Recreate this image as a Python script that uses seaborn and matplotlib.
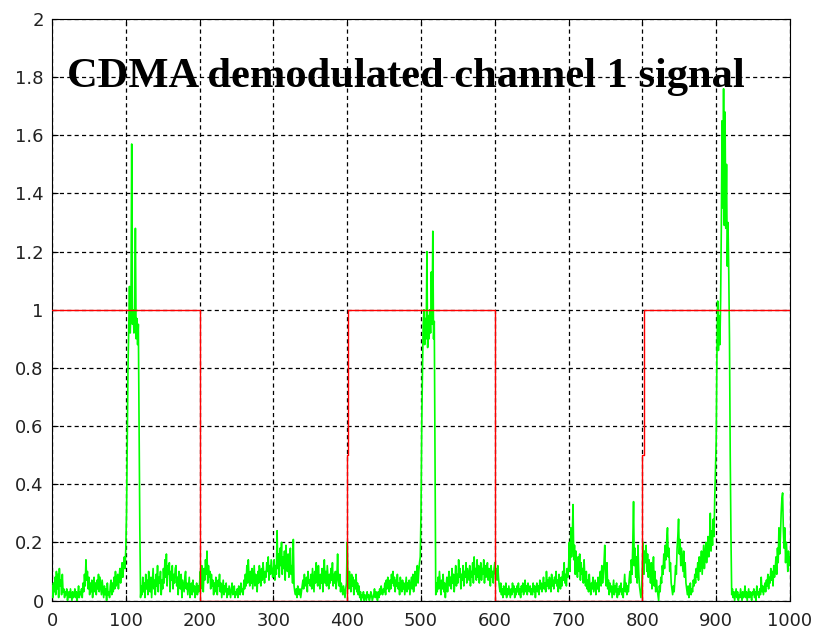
import numpy as np
import pandas as pd
import matplotlib
matplotlib.use("Agg")
import matplotlib.pyplot as plt
import seaborn as sns

# ---------------- data ----------------
title_text = "CDMA demodulated channel 1 signal"
x_ticks = [0, 100, 200, 300, 400, 500, 600, 700, 800, 900, 1000]
y_ticks = [0, 0.2, 0.4, 0.6, 0.8, 1, 1.2, 1.4, 1.6, 1.8, 2]
y_tick_labels = ["0", "0.2", "0.4", "0.6", "0.8", "1", "1.2", "1.4", "1.6", "1.8", "2"]

# original transmitted bits (red)
red_x = [0, 200, 200, 400, 400, 401.5, 401.5, 600, 600, 800, 800, 801.5, 801.5, 1000]
red_y = [1, 1, 0, 0, 0.5, 0.5, 1, 1, 0, 0, 0.5, 0.5, 1, 1]

# demodulated channel-1 signal (green), one sample per unit from 0 to 1000
green_x = list(range(0, 1001))
green_y = [
    # 0-49
    0.05,0.01,0.06,0.03,0.08,0.02,0.10,0.04,0.09,0.01,
    0.11,0.05,0.07,0.02,0.09,0.03,0.04,0.01,0.03,0.02,
    0.04,0.00,0.02,0.03,0.01,0.04,0.02,0.00,0.03,0.01,
    0.02,0.04,0.01,0.03,0.00,0.02,0.05,0.01,0.03,0.02,
    0.04,0.01,0.06,0.03,0.09,0.05,0.14,0.07,0.10,0.04,
    # 50-99
    0.08,0.02,0.06,0.03,0.07,0.01,0.05,0.08,0.03,0.06,
    0.02,0.07,0.04,0.09,0.03,0.08,0.05,0.02,0.07,0.04,
    0.01,0.05,0.02,0.04,0.00,0.06,0.02,0.03,0.01,0.05,
    0.07,0.02,0.06,0.03,0.08,0.04,0.10,0.05,0.07,0.09,
    0.04,0.08,0.11,0.06,0.10,0.13,0.08,0.12,0.15,0.11,
    # 100-149
    0.18,0.30,0.55,0.80,0.95,1.08,0.92,1.00,1.57,0.95,
    1.00,0.92,0.98,1.28,0.90,0.97,0.88,0.95,0.60,0.25,
    0.01,0.05,0.02,0.08,0.03,0.06,0.01,0.09,0.04,0.07,
    0.02,0.10,0.05,0.03,0.08,0.01,0.06,0.11,0.04,0.07,
    0.02,0.09,0.05,0.12,0.03,0.08,0.06,0.10,0.02,0.07,
    # 150-199
    0.04,0.11,0.06,0.14,0.08,0.16,0.05,0.12,0.09,0.13,
    0.03,0.10,0.07,0.12,0.04,0.09,0.06,0.11,0.12,0.05,
    0.08,0.02,0.10,0.06,0.04,0.09,0.01,0.07,0.05,0.03,
    0.08,0.10,0.04,0.06,0.02,0.05,0.08,0.01,0.04,0.06,
    0.02,0.07,0.03,0.05,0.01,0.04,0.06,0.02,0.05,0.03,
    # 200-249
    0.06,0.10,0.04,0.12,0.08,0.03,0.11,0.07,0.14,0.09,
    0.17,0.06,0.12,0.08,0.10,0.04,0.09,0.05,0.07,0.02,
    0.06,0.03,0.08,0.04,0.02,0.07,0.05,0.09,0.03,0.06,
    0.01,0.04,0.07,0.02,0.05,0.03,0.06,0.01,0.04,0.02,
    0.05,0.03,0.01,0.04,0.06,0.02,0.03,0.05,0.01,0.03,
    # 250-299
    0.02,0.04,0.01,0.05,0.03,0.02,0.06,0.03,0.04,0.02,
    0.07,0.04,0.09,0.05,0.12,0.06,0.14,0.08,0.05,0.10,
    0.06,0.11,0.04,0.08,0.12,0.05,0.09,0.07,0.03,0.10,
    0.06,0.12,0.08,0.05,0.11,0.07,0.13,0.09,0.06,0.10,
    0.08,0.13,0.10,0.15,0.07,0.12,0.09,0.14,0.11,0.08,
    # 300-349
    0.10,0.14,0.07,0.12,0.09,0.24,0.11,0.16,0.08,0.18,
    0.12,0.20,0.09,0.15,0.11,0.17,0.07,0.19,0.13,0.10,
    0.16,0.08,0.14,0.18,0.09,0.12,0.06,0.21,0.05,0.03,
    0.02,0.04,0.01,0.05,0.03,0.02,0.04,0.01,0.03,0.05,
    0.07,0.04,0.09,0.05,0.06,0.08,0.03,0.10,0.06,0.07,
    # 350-399
    0.05,0.09,0.04,0.11,0.07,0.03,0.10,0.06,0.13,0.08,
    0.05,0.12,0.07,0.04,0.09,0.06,0.11,0.03,0.08,0.14,
    0.06,0.10,0.05,0.12,0.08,0.04,0.09,0.06,0.11,0.07,
    0.13,0.05,0.09,0.06,0.10,0.04,0.08,0.16,0.07,0.05,
    0.09,0.03,0.06,0.04,0.02,0.05,0.03,0.01,0.04,0.06,
    # 400-449
    0.20,0.08,0.04,0.10,0.06,0.03,0.09,0.05,0.08,0.02,
    0.07,0.04,0.09,0.03,0.06,0.02,0.05,0.01,0.03,0.00,
    0.02,0.01,0.03,0.00,0.02,0.01,0.00,0.03,0.01,0.02,
    0.00,0.01,0.03,0.02,0.00,0.01,0.02,0.04,0.01,0.03,
    0.02,0.00,0.03,0.01,0.04,0.02,0.05,0.03,0.02,0.04,
    # 450-499
    0.03,0.06,0.02,0.07,0.04,0.08,0.05,0.03,0.07,0.04,
    0.09,0.06,0.10,0.05,0.08,0.03,0.07,0.05,0.09,0.04,
    0.06,0.02,0.08,0.05,0.03,0.07,0.04,0.06,0.02,0.05,
    0.08,0.03,0.06,0.04,0.07,0.02,0.05,0.08,0.04,0.09,
    0.03,0.07,0.10,0.05,0.08,0.12,0.06,0.10,0.13,0.15,
    # 500-549
    0.30,0.60,0.79,0.95,1.00,0.88,0.97,0.90,1.20,0.87,
    0.98,0.90,1.00,0.92,1.13,0.95,1.27,0.90,0.96,0.50,
    0.02,0.06,0.03,0.08,0.04,0.10,0.06,0.02,0.07,0.04,
    0.09,0.03,0.06,0.01,0.05,0.08,0.03,0.07,0.10,0.05,
    0.08,0.04,0.11,0.06,0.09,0.03,0.07,0.12,0.05,0.09,
    # 550-599
    0.06,0.14,0.08,0.11,0.04,0.09,0.07,0.12,0.05,0.10,
    0.08,0.13,0.06,0.11,0.09,0.07,0.12,0.05,0.10,0.08,
    0.13,0.06,0.15,0.09,0.11,0.07,0.14,0.08,0.12,0.06,
    0.10,0.13,0.07,0.11,0.09,0.14,0.06,0.12,0.08,0.10,
    0.13,0.07,0.11,0.09,0.05,0.12,0.08,0.10,0.06,0.11,
    # 600-649
    0.13,0.09,0.11,0.07,0.12,0.08,0.05,0.03,0.06,0.02,
    0.04,0.01,0.05,0.03,0.02,0.06,0.01,0.04,0.02,0.05,
    0.03,0.01,0.04,0.02,0.06,0.03,0.05,0.01,0.04,0.02,
    0.05,0.03,0.06,0.02,0.04,0.01,0.05,0.03,0.06,0.02,
    0.04,0.07,0.03,0.05,0.02,0.06,0.04,0.03,0.05,0.02,
    # 650-699
    0.04,0.02,0.06,0.03,0.05,0.01,0.04,0.06,0.03,0.05,
    0.02,0.07,0.04,0.06,0.03,0.05,0.08,0.04,0.06,0.03,
    0.10,0.05,0.07,0.04,0.08,0.06,0.03,0.09,0.05,0.07,
    0.04,0.08,0.06,0.10,0.05,0.07,0.03,0.09,0.06,0.04,
    0.08,0.05,0.10,0.07,0.13,0.06,0.09,0.05,0.11,0.08,
    # 700-749
    0.12,0.20,0.10,0.25,0.15,0.22,0.33,0.14,0.19,0.09,
    0.17,0.12,0.08,0.15,0.10,0.16,0.07,0.13,0.09,0.11,
    0.06,0.14,0.08,0.05,0.10,0.04,0.07,0.03,0.09,0.05,
    0.02,0.06,0.04,0.08,0.03,0.05,0.07,0.02,0.06,0.04,
    0.08,0.03,0.07,0.10,0.05,0.12,0.06,0.09,0.13,0.19,
    # 750-799
    0.08,0.05,0.13,0.04,0.07,0.02,0.06,0.03,0.05,0.01,
    0.04,0.07,0.02,0.05,0.03,0.06,0.01,0.04,0.02,0.05,
    0.03,0.06,0.02,0.04,0.01,0.05,0.09,0.03,0.06,0.02,
    0.05,0.03,0.07,0.10,0.06,0.14,0.09,0.20,0.34,0.12,
    0.18,0.08,0.15,0.06,0.19,0.10,0.05,0.03,0.01,0.04,
    # 800-849
    0.12,0.20,0.09,0.17,0.13,0.19,0.10,0.16,0.08,0.14,
    0.11,0.06,0.13,0.04,0.09,0.15,0.05,0.10,0.03,0.07,
    0.04,0.02,0.00,0.05,0.03,0.08,0.06,0.12,0.09,0.16,
    0.11,0.19,0.14,0.21,0.25,0.15,0.18,0.10,0.13,0.06,
    0.04,0.02,0.05,0.03,0.07,0.12,0.09,0.18,0.22,0.28,
    # 850-899
    0.16,0.21,0.12,0.18,0.14,0.10,0.17,0.08,0.13,0.06,
    0.04,0.02,0.05,0.01,0.03,0.06,0.02,0.04,0.03,0.07,
    0.05,0.09,0.06,0.11,0.08,0.13,0.07,0.15,0.10,0.12,
    0.17,0.09,0.14,0.19,0.11,0.16,0.20,0.13,0.18,0.22,
    0.15,0.20,0.30,0.17,0.24,0.19,0.28,0.22,0.35,0.45,
    # 900-949
    0.55,0.85,1.03,0.86,0.98,0.88,1.03,1.30,1.65,1.35,
    1.76,1.29,1.68,1.28,1.50,1.15,1.30,1.13,0.90,0.50,
    0.22,0.02,0.04,0.01,0.03,0.00,0.02,0.04,0.01,0.03,
    0.00,0.02,0.01,0.04,0.02,0.00,0.03,0.01,0.02,0.05,
    0.01,0.03,0.00,0.02,0.04,0.01,0.03,0.02,0.00,0.03,
    # 950-999
    0.02,0.04,0.01,0.03,0.00,0.05,0.02,0.03,0.01,0.04,
    0.02,0.08,0.03,0.05,0.02,0.04,0.06,0.03,0.07,0.05,
    0.09,0.04,0.08,0.06,0.11,0.07,0.10,0.05,0.12,0.08,
    0.11,0.15,0.09,0.18,0.13,0.25,0.16,0.22,0.30,0.35,
    0.37,0.24,0.18,0.25,0.13,0.20,0.16,0.10,0.17,0.12,
    # 1000
    0.15,
]

# ---------------- style ----------------
sns.set_theme(style="white")
plt.rcParams["font.family"] = ["DejaVu Sans"]
plt.rcParams["lines.scale_dashes"] = True

fig = plt.figure(figsize=(8.16, 6.33), dpi=100)
ax = fig.add_axes([52 / 816, 1 - 600.5 / 633, (790 - 52) / 816, (600.5 - 19) / 633])

green_df = pd.DataFrame({"x": green_x, "y": green_y})
red_df = pd.DataFrame({"x": red_x, "y": red_y})

sns.lineplot(data=green_df, x="x", y="y", ax=ax, color="#00ff00", lw=1.2,
             estimator=None, sort=False, zorder=3)
sns.lineplot(data=red_df, x="x", y="y", ax=ax, color="#ff0000", lw=1.0,
             estimator=None, sort=False, zorder=4)

ax.set_xlim(0, 1000)
ax.set_ylim(0, 2)
ax.set_xticks(x_ticks)
ax.set_xticklabels([str(t) for t in x_ticks])
ax.set_yticks(y_ticks)
ax.set_yticklabels(y_tick_labels)
ax.set_xlabel("")
ax.set_ylabel("")

ax.grid(True, color="black", linestyle=(0, (3.3, 2.6)), linewidth=0.9, zorder=1)
ax.set_axisbelow(True)
for s in ax.spines.values():
    s.set_color("black")
    s.set_linewidth(0.8)
    s.set_visible(True)
ax.tick_params(axis="both", which="both", direction="in", length=4, width=0.8,
               colors="black", labelsize=13, top=True, right=True,
               bottom=True, left=True)
ax.tick_params(axis="x", pad=8)
ax.tick_params(axis="y", pad=6)
for lbl in ax.get_xticklabels() + ax.get_yticklabels():
    lbl.set_color("#222222")

ax.text(20, 1.765, title_text, ha="left", va="baseline",
        fontsize=30.6, fontweight="bold", family=["Liberation Serif", "DejaVu Serif"],
        color="black", zorder=5)

fig.savefig("out.png", dpi=100, facecolor="white")
